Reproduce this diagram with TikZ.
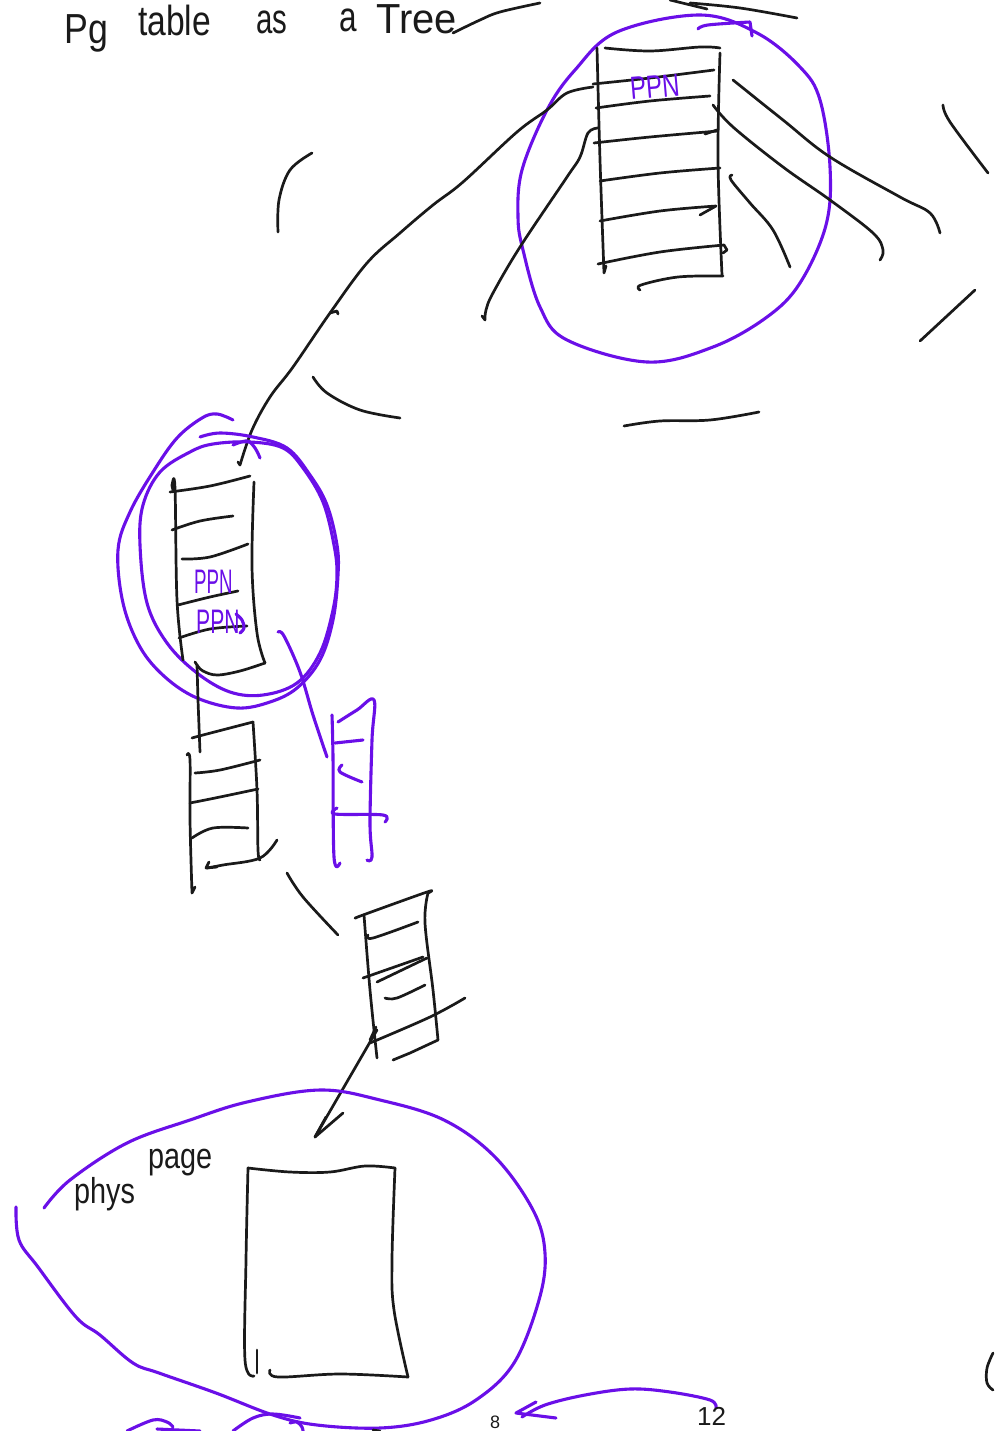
\documentclass[tikz,border=0pt]{standalone}
\usepackage{fontspec}
\setmainfont{Liberation Sans}
\definecolor{ink}{HTML}{1A1A1A}
\definecolor{pen}{HTML}{6A0FE8}
\begin{document}
\begin{tikzpicture}[x=1pt,y=-1pt,
  blk/.style={draw=ink,line width=2.7pt,line cap=round,line join=round},
  pur/.style={draw=pen,line width=3.1pt,line cap=round,line join=round},
  hand/.style={inner sep=0pt,anchor=base west,text=ink},
  phand/.style={inner sep=0pt,anchor=base west,text=pen},
  sm/.style={smooth,tension=0.6}]
\useasboundingbox (0,0) rectangle (994,1431);
\fill[white] (0,0) rectangle (994,1431);

% ---------- title ----------
\node[hand,font=\fontsize{42}{42}\selectfont] (tPg) at (64,44) {\scalebox{0.85}[1]{Pg}};
\node[hand,font=\fontsize{42}{42}\selectfont] (tTable) at (138,36) {\scalebox{0.8}[1]{table}};
\node[hand,font=\fontsize{42}{42}\selectfont] (tAs) at (256,34) {\scalebox{0.7}[1]{as}};
\node[hand,font=\fontsize{42}{42}\selectfont] (tA) at (339,32) {\scalebox{0.75}[1]{a}};
\node[hand,font=\fontsize{42}{42}\selectfont] (tTree) at (376,34) {\scalebox{0.95}[1]{Tree}};

% top scratches
\draw[blk] plot[sm] coordinates {(453,33) (480,20) (500,12) (540,3)};
\draw[blk] (670,0) -- (707,9);
\draw[blk] plot[sm] coordinates {(690,3) (740,8) (797,18)};
\draw[pur] plot[sm] coordinates {(698,29) (708,25) (750,22)} -- (752,36);

% ---------- top table + circle ----------
\draw[pur] plot[smooth cycle,tension=0.6] coordinates {(700,15) (757,33) (800,67) (820,100) (830,167) (826,225) (800,283) (767,317) (713,347) (647,362) (567,340) (540,307) (523,250) (518,217) (522,170) (547,110) (575,70) (617,32)};
\draw[blk] plot[sm] coordinates {(597,48) (600,160) (604,273)} -- (606,266);
\draw[blk] plot[sm] coordinates {(720,53) (718,160) (722,275)};
\draw[blk] plot[sm] coordinates {(605,48) (650,51) (700,47) (720,48)};
\draw[blk] plot[sm] coordinates {(640,290) (641,285) (678,277) (723,276)};
\draw[blk] plot[sm] coordinates {(593,84) (650,78) (714,70)};
\draw[blk] plot[sm] coordinates {(596,108) (650,101) (710,96)};
\draw[blk] plot[sm] coordinates {(594,143) (650,137) (718,131)};
\draw[blk] (705,134) -- (717,130);
\draw[blk] plot[sm] coordinates {(600,181) (660,173) (720,168)};
\draw[blk] plot[sm] coordinates {(600,221) (660,211) (716,206)} -- (700,215);
\draw[blk] plot[sm] coordinates {(598,264) (660,252) (724,245)} -- (727,250) -- (723,253);
\node[phand,font=\fontsize{32}{32}\selectfont,rotate=5] (ppnTop) at (631,100) {\scalebox{0.75}[1]{PPN}};

% connectors from top table
\draw[blk] plot[sm] coordinates {(593,87) (567,93) (547,110) (517,132) (463,182) (433,205) (400,233) (367,263) (330,313) (293,367) (270,397) (252,430) (240,465)};
\draw[blk] (330,313) -- (337,311) -- (338,314);
\draw[blk] (240,465) -- (238,462);
\draw[blk] plot[sm] coordinates {(598,128) (588,133) (580,157) (567,177) (520,247) (493,293) (486,310) (485,320)} -- (482,316);
\draw[blk] plot[sm] coordinates {(733,80) (783,120) (830,157) (900,197) (930,213) (940,233)};
\draw[blk] plot[sm] coordinates {(713,105) (733,127) (783,167) (830,200) (873,233) (883,250) (880,260)};
\draw[blk] plot[sm] coordinates {(732,175) (731,180) (750,203) (773,230) (790,267)};
\draw[blk] plot[sm] coordinates {(943,105) (950,122) (988,173)};
\draw[blk] (975,290) -- (920,341);
\draw[blk] plot[sm] coordinates {(312,153) (290,170) (279,200) (278,232)};
\draw[blk] plot[sm] coordinates {(313,377) (327,393) (360,410) (400,418)};
\draw[blk] plot[sm] coordinates {(624,426) (660,421) (710,420) (759,412)};

% ---------- middle table with loops ----------
\draw[pur] plot[sm] coordinates {(233,420) (217,414) (202,418) (177,438) (153,472) (130,512) (118,550) (123,603) (140,647) (165,677) (197,698) (237,708) (270,702) (297,688) (320,660) (333,620) (338,575) (337,545) (327,505) (310,475) (287,448) (253,437) (220,433) (200,437)};
\draw[pur] plot[smooth cycle,tension=0.6] coordinates {(140,545) (143,505) (160,472) (190,452) (213,444) (250,442) (283,448) (303,468) (323,502) (334,545) (337,575) (333,610) (320,653) (297,683) (263,695) (230,692) (197,673) (167,643) (147,603)};
\draw[pur] plot[sm] coordinates {(233,445) (247,441) (255,448) (260,458)};
\draw[pur] plot[sm] coordinates {(278,632) (284,636) (300,672) (313,715) (327,757)};

\draw[blk] plot[sm] coordinates {(173,490) (172,485) (175,488) (177,600) (183,660)};
\draw[blk] plot[sm] coordinates {(254,482) (252,567) (257,633) (265,663)};
\draw[blk] plot[sm] coordinates {(170,492) (210,486) (250,476)};
\draw[blk] plot[sm] coordinates {(197,665) (203,671) (217,675) (240,671) (265,663)};
\draw[blk] plot[sm] coordinates {(172,530) (200,521) (233,516)};
\draw[blk] plot[sm] coordinates {(182,559) (210,557) (248,544)};
\draw[blk] plot[sm] coordinates {(178,605) (210,597) (238,591)};
\draw[blk] plot[sm] coordinates {(179,638) (210,629) (247,626)};
\node[phand,font=\fontsize{34}{34}\selectfont] (ppnA) at (194,593) {\scalebox{0.55}[1]{PPN}};
\node[phand,font=\fontsize{34}{34}\selectfont] (ppnB) at (196,633) {\scalebox{0.62}[1]{PPN}};
\draw[pur] plot[sm] coordinates {(236,614) (242,620) (244,628) (240,633)};

% stub down to next table
\draw[blk] (195,662) -- (197,665) -- (198,700) -- (200,752);

% ---------- third table ----------
\draw[blk] plot[sm] coordinates {(192,738) (203,735) (253,722)};
\draw[blk] plot[sm] coordinates {(253,722) (257,790) (258,850) (260,860)};
\draw[blk] plot[sm] coordinates {(187,755) (190,760) (190,820) (192,893)} -- (195,887);
\draw[blk] plot[sm] coordinates {(195,773) (220,770) (260,760)};
\draw[blk] plot[sm] coordinates {(190,803) (220,797) (258,789)};
\draw[blk] plot[sm] coordinates {(192,838) (213,828) (248,828)};
\draw[blk] plot[sm] coordinates {(207,868) (223,865) (260,858) (277,840)};
\draw[blk] (209,862) -- (206,868) -- (217,867);

% purple small table
\draw[pur] plot[sm] coordinates {(332,715) (333,757) (334,857) (340,863)};
\draw[pur] plot[sm] coordinates {(338,722) (357,710) (374,700) (372,740) (370,823) (372,857) (367,860)};
\draw[pur] (335,743) -- (363,740);
\draw[pur] plot[sm] coordinates {(342,765) (340,772) (362,782)};
\draw[pur] plot[sm] coordinates {(337,808) (335,814) (383,815) (385,822)};

% line between tables
\draw[blk] plot[sm] coordinates {(287,873) (303,897) (338,935)};

% ---------- fourth table ----------
\draw[blk] plot[sm] coordinates {(356,918) (363,915) (427,892) (428,893)};
\draw[blk] plot[sm] coordinates {(364,915) (370,990) (377,1058)};
\draw[blk] plot[sm] coordinates {(428,893) (425,923) (433,990) (438,1040)} -- (410,1053) -- (393,1060);
\draw[blk] plot[sm] coordinates {(368,935) (373,938) (418,922)};
\draw[blk] (363,978) -- (423,957);
\draw[blk] (377,982) -- (427,958);
\draw[blk] plot[sm] coordinates {(385,998) (397,998) (425,985)};
\draw[blk] plot[sm] coordinates {(370,1043) (430,1017) (465,998)};

% arrow to phys page
\coordinate (aS) at (377,1030);
\coordinate (aE) at (315,1137);
\draw[blk] (aS) -- (aE);
\draw[blk] (343,1113) -- (aE) -- (326,1117);
\draw[blk] (370,1040) -- (376,1027);

% ---------- phys page ----------
\draw[pur] plot[sm] coordinates {(44,1208) (70,1180) (127,1143) (190,1120) (247,1102) (320,1090) (380,1100) (444,1120) (495,1157) (533,1210) (545,1253) (539,1300) (514,1363) (476,1400) (431,1420) (380,1428) (317,1425) (273,1415) (216,1393) (159,1373) (133,1363) (100,1335) (76,1317) (38,1267) (19,1240) (16,1207)};
\draw[blk] plot[sm] coordinates {(248,1168) (290,1172) (330,1172) (365,1166) (395,1168)};
\draw[blk] plot[sm] coordinates {(395,1168) (392,1260) (394,1310) (408,1377)};
\draw[blk] plot[sm] coordinates {(270,1370) (278,1377) (340,1374) (408,1377)};
\draw[blk] plot[sm] coordinates {(248,1168) (246,1260) (245,1360) (254,1376)};
\draw[blk] (257,1350) -- (257,1373);
\node[hand,font=\fontsize{36}{36}\selectfont] (physA) at (74,1203) {\scalebox{0.8}[1]{phys}};
\node[hand,font=\fontsize{36}{36}\selectfont] (physB) at (148,1168) {\scalebox{0.8}[1]{page}};

% bottom scribbles
\draw[pur] plot[sm] coordinates {(127,1431) (153,1420) (167,1422) (173,1427)};
\draw[pur] (157,1429) -- (200,1431);
\draw[pur] plot[sm] coordinates {(233,1431) (253,1418) (273,1414) (300,1418)};
\draw[pur] plot[sm] coordinates {(290,1423) (297,1422) (302,1427) (303,1431)};
\draw[blk] (373,1430) -- (380,1431);
\node[hand,font=\fontsize{18}{18}\selectfont] (eight) at (490,1428) {8};
\draw[pur] plot[sm] coordinates {(716,1408) (710,1400) (670,1392) (630,1389) (585,1395) (545,1405) (522,1417)};
\draw[pur] (536,1402) -- (516,1413) -- (556,1418);
\node[hand,font=\fontsize{26}{26}\selectfont] (twelve) at (697,1425) {12};
\draw[blk] plot[sm] coordinates {(993,1353) (987,1368) (987,1383) (993,1390)};
\end{tikzpicture}
\end{document}
